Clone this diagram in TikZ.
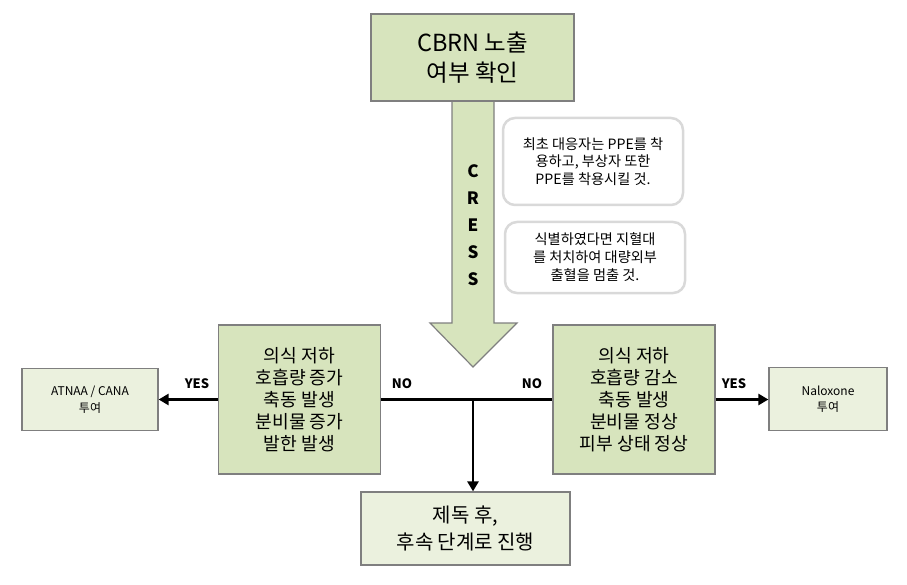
\documentclass[tikz,border=0pt]{standalone}
\usepackage{fontspec}
\setmainfont{Noto Sans CJK KR}
\usetikzlibrary{arrows.meta}
\definecolor{boxgreen}{HTML}{D7E4BD}
\definecolor{lightgreen}{HTML}{EBF1DE}
\definecolor{boxborder}{HTML}{7F7F7F}
\definecolor{calloutborder}{HTML}{D9D9D9}
\tikzset{
  mainbox/.style={draw=boxborder, line width=1.2pt, fill=boxgreen, align=center, inner sep=0pt},
  sidebox/.style={draw=boxborder, line width=1.2pt, fill=lightgreen, align=center, inner sep=0pt},
  callout/.style={draw=calloutborder, line width=2.5pt, fill=white, rounded corners=12pt, align=center, inner sep=0pt},
  conn/.style={line width=2.6pt, black},
  connarrow/.style={conn, -{Triangle[length=10pt,width=11pt]}},
  lbl/.style={font=\fontsize{13}{15}\selectfont\bfseries, inner sep=0pt},
}
\begin{document}
\begin{tikzpicture}[x=1pt,y=-1pt]
\useasboundingbox (0,0) rectangle (907,585);
% big arrow
\draw[draw=boxborder, line width=1.2pt, fill=boxgreen]
  (452,101) -- (494,101) -- (494,323) -- (517,323) -- (473,367) -- (430,323) -- (452,323) -- cycle;
\node[font=\fontsize{17}{27}\selectfont\bfseries, align=center, inner sep=0pt] (cress) at (473,225) {C\\R\\E\\S\\S};
% top box
\node[mainbox, minimum width=203pt, minimum height=87pt, font=\fontsize{23.5}{30}\selectfont] (top) at (472.5,57.5) {CBRN 노출\\여부 확인};
% callouts
\node[callout, minimum width=180pt, minimum height=87pt, font=\fontsize{14.2}{17.5}\selectfont] (c1) at (593,161.5) {최초 대응자는 PPE를 착\\용하고, 부상자 또한\\PPE를 착용시킬 것.};
\node[callout, minimum width=180pt, minimum height=71pt, font=\fontsize{14.2}{18}\selectfont] (c2) at (595,257.5) {식별하였다면 지혈대\\를 처치하여 대량외부\\출혈을 멈출 것.};
% middle boxes
\node[mainbox, minimum width=162pt, minimum height=149pt, font=\fontsize{18.2}{22}\selectfont] (lm) at (299.5,399.5) {의식 저하\\호흡량 증가\\축동 발생\\분비물 증가\\발한 발생};
\node[mainbox, minimum width=162pt, minimum height=149pt, font=\fontsize{18.2}{22}\selectfont] (rm) at (634,399.5) {의식 저하\\호흡량 감소\\축동 발생\\분비물 정상\\피부 상태 정상};
% side boxes
\node[sidebox, minimum width=136pt, minimum height=62pt, font=\fontsize{12}{16.5}\selectfont] (ls) at (90,399.5) {ATNAA / CANA\\투여};
\node[sidebox, minimum width=118pt, minimum height=63pt, font=\fontsize{12}{16.5}\selectfont] (rs) at (828,399) {Naloxone\\투여};
% bottom box
\node[sidebox, minimum width=209pt, minimum height=73pt, font=\fontsize{20}{27}\selectfont] (bot) at (465.5,528.5) {제독 후,\\후속 단계로 진행};
% connectors
\coordinate (j) at (473,399.5);
\draw[conn] (lm.east) -- (rm.west);
\draw[connarrow] (j) -- (j |- bot.north);
\draw[connarrow] (lm.west) -- (lm.west -| ls.east);
\draw[connarrow] (rm.east) -- (rm.east -| rs.west);
% labels
\node[lbl] (yes1) at (197,384) {YES};
\node[lbl] (yes2) at (734,384) {YES};
\node[lbl] (no1) at (402,384) {NO};
\node[lbl] (no2) at (532,384) {NO};
\end{tikzpicture}
\end{document}
